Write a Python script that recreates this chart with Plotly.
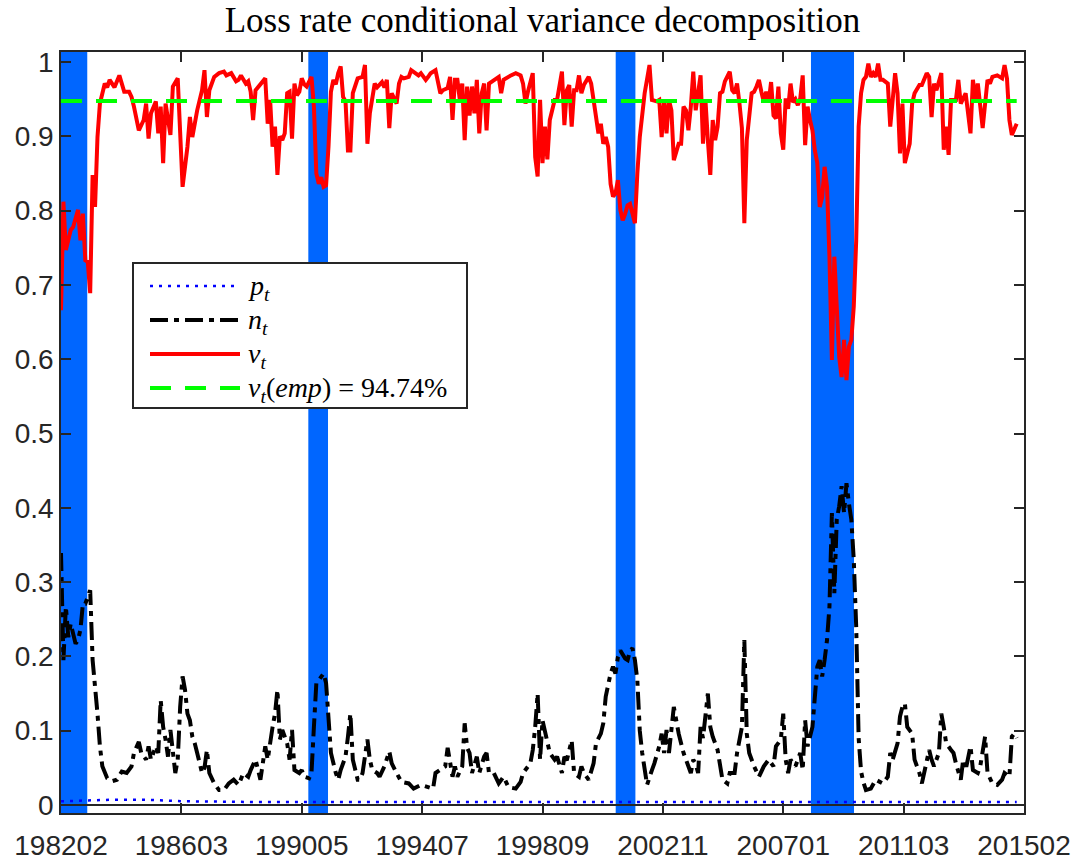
import plotly.graph_objects as go

# ---------------- data (month index from 198202) ----------------
v_x = [0,1,2,4,5,7,8,9,10,11,12,13,14,15,16,18,19,20,22,24,26,28,29,30,32,34,35,36,37,39,40,41,42,43,45,46,48,50,52,53,54,56,58,59,60,61,63,65,67,68,70,72,73,74,76,77,78,79,80,82,84,85,86,87,88,89,90,91,92,93,94,95,96,97,98,99,100,101,102,103,104,105,106,107,108,109,110,111,112,113,114,115,116,117,118,119,120,122,124,125,126,127,129,130,132,133,134,135,136,138,139,140,141,143,144,146,147,148,150,151,152,154,155,156,157,159,160,161,162,163,164,165,166,167,168,169,170,171,172,173,174,175,176,178,180,181,182,185,187,189,190,191,192,194,195,196,197,198,199,200,201,203,204,206,207,208,209,210,211,212,213,214,215,217,218,219,221,222,223,224,225,226,227,228,229,230,231,232,233,234,235,236,237,238,240,241,242,243,245,246,247,248,249,250,251,252,254,255,256,257,258,259,260,261,262,263,264,265,266,267,268,269,270,271,272,273,275,276,277,278,279,280,281,282,284,285,286,287,288,289,290,291,292,293,294,295,296,297,298,299,300,301,302,303,304,305,306,307,308,309,310,311,312,313,314,315,316,317,318,319,320,321,322,323,324,325,326,327,328,329,330,331,332,333,334,335,336,337,338,340,341,343,344,345,346,347,349,350,351,353,354,356,357,358,359,360,362,363,364,365,366,368,369,370,372,374,375,376,377,379,381,382,383,385,387,388,389,390,391,393]
v_t = [0.666,0.812,0.747,0.774,0.778,0.801,0.760,0.796,0.733,0.731,0.689,0.848,0.805,0.899,0.944,0.971,0.966,0.976,0.966,0.982,0.960,0.960,0.953,0.940,0.908,0.922,0.944,0.897,0.931,0.947,0.904,0.940,0.864,0.944,0.902,0.967,0.978,0.832,0.886,0.926,0.899,0.935,0.962,0.989,0.926,0.962,0.980,0.985,0.987,0.982,0.985,0.974,0.976,0.982,0.971,0.974,0.960,0.922,0.962,0.971,0.978,0.917,0.949,0.886,0.913,0.848,0.900,0.895,0.904,0.958,0.960,0.897,0.971,0.955,0.960,0.978,0.970,0.967,0.975,0.980,0.940,0.850,0.836,0.845,0.832,0.834,0.886,0.960,0.976,0.970,0.985,0.994,0.953,0.947,0.881,0.881,0.958,0.978,0.980,0.996,0.890,0.931,0.971,0.966,0.973,0.966,0.976,0.911,0.958,0.944,0.971,0.980,0.978,0.980,0.989,0.985,0.982,0.985,0.976,0.980,0.985,0.989,0.971,0.958,0.962,0.965,0.980,0.922,0.976,0.976,0.949,0.971,0.895,0.967,0.928,0.967,0.931,0.976,0.904,0.958,0.971,0.908,0.971,0.976,0.980,0.958,0.976,0.982,0.985,0.982,0.971,0.944,0.960,0.985,0.872,0.846,0.949,0.864,0.913,0.869,0.922,0.949,0.949,0.987,0.915,0.962,0.969,0.913,0.962,0.962,0.982,0.958,0.969,0.980,0.971,0.949,0.904,0.917,0.890,0.899,0.886,0.836,0.819,0.823,0.841,0.801,0.787,0.796,0.807,0.809,0.796,0.783,0.850,0.899,0.958,0.980,0.996,0.949,0.947,0.949,0.899,0.949,0.904,0.949,0.935,0.868,0.890,0.890,0.940,0.935,0.908,0.940,0.987,0.935,0.962,0.982,0.890,0.949,0.895,0.848,0.922,0.895,0.913,0.958,0.960,0.974,0.987,0.962,0.958,0.971,0.944,0.911,0.783,0.895,0.958,0.960,0.967,0.976,0.960,0.946,0.960,0.946,0.973,0.928,0.924,0.967,0.904,0.882,0.951,0.937,0.971,0.946,0.950,0.942,0.951,0.982,0.888,0.940,0.922,0.908,0.881,0.864,0.805,0.818,0.859,0.832,0.738,0.599,0.738,0.680,0.603,0.576,0.626,0.572,0.617,0.626,0.671,0.760,0.913,0.958,0.976,0.980,0.998,0.980,0.985,0.980,0.998,0.976,0.976,0.971,0.913,0.985,0.958,0.877,0.944,0.864,0.890,0.944,0.958,0.969,0.969,0.985,0.980,0.926,0.971,0.962,0.985,0.882,0.913,0.875,0.949,0.949,0.976,0.944,0.958,0.904,0.976,0.949,0.971,0.911,0.976,0.971,0.980,0.982,0.978,0.996,0.978,0.922,0.902,0.917]

n_x = [0,1,2,3,4,6,7,8,9,10,11,12,13,14,15,16,17,19,21,23,25,27,29,30,32,33,35,36,37,39,40,41,42,43,44,45,46,47,48,49,50,51,52,53,54,55,56,58,59,60,61,63,65,67,69,71,73,75,77,78,80,81,82,84,85,87,88,89,90,91,93,94,95,96,98,99,100,102,103,104,105,106,108,109,110,111,113,114,115,117,118,119,120,122,123,124,126,127,128,130,131,133,135,136,138,140,143,145,148,151,153,154,156,158,159,161,162,163,165,166,167,168,169,171,172,174,175,176,178,180,182,184,187,189,190,192,193,194,195,196,197,198,199,200,201,203,204,206,207,208,210,211,213,214,215,217,219,220,222,223,224,226,227,228,229,230,232,233,234,235,236,237,238,239,240,241,243,244,246,247,248,249,250,252,253,254,256,257,259,260,261,262,263,264,266,267,268,270,271,272,274,275,277,278,280,281,282,283,285,287,289,291,293,294,296,297,298,299,300,302,304,305,306,307,309,310,311,312,313,314,315,316,317,318,319,320,321,322,323,324,325,326,327,328,329,330,331,333,335,338,340,341,342,344,345,346,347,348,350,351,353,354,355,357,358,359,361,362,363,364,366,367,368,370,371,372,374,375,377,378,380,381,383,385,387,388,390,391,392,393]
n_t = [0.339,0.195,0.267,0.226,0.244,0.217,0.222,0.236,0.271,0.271,0.280,0.289,0.195,0.164,0.123,0.079,0.052,0.036,0.032,0.034,0.045,0.043,0.052,0.070,0.085,0.070,0.061,0.079,0.061,0.079,0.070,0.141,0.105,0.088,0.065,0.101,0.070,0.043,0.061,0.132,0.173,0.155,0.123,0.114,0.092,0.083,0.070,0.043,0.050,0.074,0.043,0.029,0.020,0.020,0.029,0.034,0.027,0.043,0.038,0.047,0.061,0.047,0.034,0.079,0.061,0.105,0.123,0.155,0.088,0.101,0.083,0.061,0.101,0.047,0.043,0.047,0.038,0.036,0.043,0.105,0.164,0.168,0.177,0.164,0.123,0.070,0.043,0.034,0.047,0.065,0.092,0.123,0.061,0.034,0.034,0.043,0.088,0.061,0.047,0.043,0.038,0.052,0.072,0.056,0.043,0.031,0.029,0.022,0.027,0.024,0.022,0.043,0.047,0.052,0.077,0.038,0.052,0.038,0.052,0.110,0.077,0.070,0.043,0.065,0.043,0.065,0.070,0.043,0.043,0.029,0.038,0.024,0.022,0.031,0.043,0.052,0.056,0.074,0.105,0.150,0.061,0.114,0.101,0.083,0.070,0.061,0.065,0.043,0.065,0.060,0.087,0.043,0.038,0.052,0.043,0.034,0.056,0.083,0.096,0.110,0.146,0.177,0.186,0.177,0.199,0.208,0.197,0.195,0.208,0.211,0.195,0.168,0.100,0.070,0.043,0.027,0.047,0.056,0.079,0.096,0.070,0.101,0.070,0.132,0.114,0.096,0.070,0.061,0.043,0.061,0.055,0.043,0.105,0.090,0.150,0.105,0.092,0.074,0.056,0.034,0.029,0.043,0.043,0.070,0.105,0.222,0.096,0.070,0.052,0.038,0.052,0.061,0.052,0.079,0.088,0.123,0.061,0.043,0.061,0.052,0.070,0.047,0.114,0.079,0.105,0.141,0.186,0.195,0.173,0.195,0.222,0.267,0.393,0.285,0.384,0.402,0.429,0.393,0.433,0.406,0.384,0.330,0.240,0.090,0.045,0.030,0.020,0.022,0.034,0.029,0.038,0.070,0.061,0.083,0.119,0.132,0.137,0.105,0.096,0.061,0.043,0.029,0.043,0.074,0.061,0.052,0.070,0.123,0.105,0.083,0.074,0.070,0.056,0.034,0.061,0.047,0.079,0.047,0.043,0.052,0.092,0.043,0.029,0.027,0.034,0.043,0.038,0.092,0.096,0.090]

p_x = [0,10,20,35,50,80,150,250,320,393]
p_t = [0.005,0.006,0.007,0.007,0.005,0.004,0.004,0.004,0.005,0.004]

v_emp = 0.9474

rec_start = [0, 101.7, 228.1, 308.4]
rec_end = [10.8, 109.8, 236.2, 326.1]

tick_pos = [0, 49.5, 99, 148.5, 198, 247.5, 297, 346.5, 396]
tick_labels = ["198202", "198603", "199005", "199407", "199809", "200211", "200701", "201103", "201502"]
y_ticks = [0, 0.1, 0.2, 0.3, 0.4, 0.5, 0.6, 0.7, 0.8, 0.9, 1]
y_labels = ["0", "0.1", "0.2", "0.3", "0.4", "0.5", "0.6", "0.7", "0.8", "0.9", "1"]

legend_labels = ["<i>p<sub>t</sub></i>", "<i>n<sub>t</sub></i>", "<i>v<sub>t</sub></i>",
                 "<i>v<sub>t</sub></i>(<i>emp</i>) = 94.74%"]

AX = "#262626"
styles = [dict(color="#0000FF", width=2.5, dash="3px,6px"),
          dict(color="#000000", width=4, dash="18px,6px,5px,6px"),
          dict(color="#FF0000", width=4),
          dict(color="#00FF00", width=4, dash="21px,14px")]

fig = go.Figure()
fig.add_trace(go.Scatter(x=p_x, y=p_t, mode="lines", name=legend_labels[0], line=styles[0]))
fig.add_trace(go.Scatter(x=n_x, y=n_t, mode="lines", name=legend_labels[1], line=styles[1]))
fig.add_trace(go.Scatter(x=v_x, y=v_t, mode="lines", name=legend_labels[2], line=styles[2]))
fig.add_trace(go.Scatter(x=[v_x[0], v_x[-1]], y=[v_emp, v_emp], mode="lines",
                         name=legend_labels[3], line=styles[3]))

for s, e in zip(rec_start, rec_end):
    fig.add_shape(type="rect", xref="x", yref="paper", x0=s, x1=e, y0=0, y1=1,
                  fillcolor="#0066FF", line=dict(width=0), layer="below")

# ---- legend box drawn in paper coordinates (plot area: 963 x 761 px) ----
PW, PH, PL, PB = 963.0, 761.0, 61.0, 813.0
def px(x):
    return (x - PL) / PW
def py(y):
    return (PB - y) / PH

fig.add_shape(type="rect", xref="paper", yref="paper",
              x0=px(133), x1=px(467), y0=py(408), y1=py(263),
              fillcolor="white", line=dict(color=AX, width=2), layer="above")
row_y = [286, 320, 354, 388]
for i, (lab, st) in enumerate(zip(legend_labels, styles)):
    fig.add_shape(type="line", xref="paper", yref="paper",
                  x0=px(150), x1=px(240), y0=py(row_y[i]), y1=py(row_y[i]),
                  line=st, layer="above")
    fig.add_annotation(xref="paper", yref="paper", x=px(246), y=py(row_y[i] + 1),
                       text=lab, showarrow=False, xanchor="left", yanchor="middle",
                       font=dict(family="Liberation Serif", size=28, color="black"))

fig.update_layout(
    width=1077, height=861,
    margin=dict(l=61, r=53, t=52, b=48, autoexpand=False),
    paper_bgcolor="white", plot_bgcolor="white",
    showlegend=False,
    title=dict(text="Loss rate conditional variance decomposition",
               font=dict(family="Liberation Serif", size=35, color="black"),
               x=0.5, xref="paper", xanchor="center", y=1 - 20 / 861, yanchor="middle"),
)
fig.update_xaxes(range=[0, 396], tickvals=tick_pos, ticktext=tick_labels,
                 ticks="inside", ticklen=10, tickwidth=1.5, tickcolor=AX,
                 showline=True, linecolor=AX, linewidth=1.5, mirror="ticks",
                 showgrid=False, zeroline=False, ticklabelstandoff=7, automargin=False,
                 tickfont=dict(family="Liberation Sans", size=28, color=AX))
fig.update_yaxes(range=[-0.0108, 1.0135], tickvals=y_ticks, ticktext=y_labels,
                 ticks="inside", ticklen=10, tickwidth=1.5, tickcolor=AX,
                 showline=True, linecolor=AX, linewidth=1.5, mirror="ticks",
                 showgrid=False, zeroline=True, zerolinecolor=AX, zerolinewidth=2,
                 automargin=False,
                 tickfont=dict(family="Liberation Sans", size=28, color=AX))

fig.write_html("out.html")
